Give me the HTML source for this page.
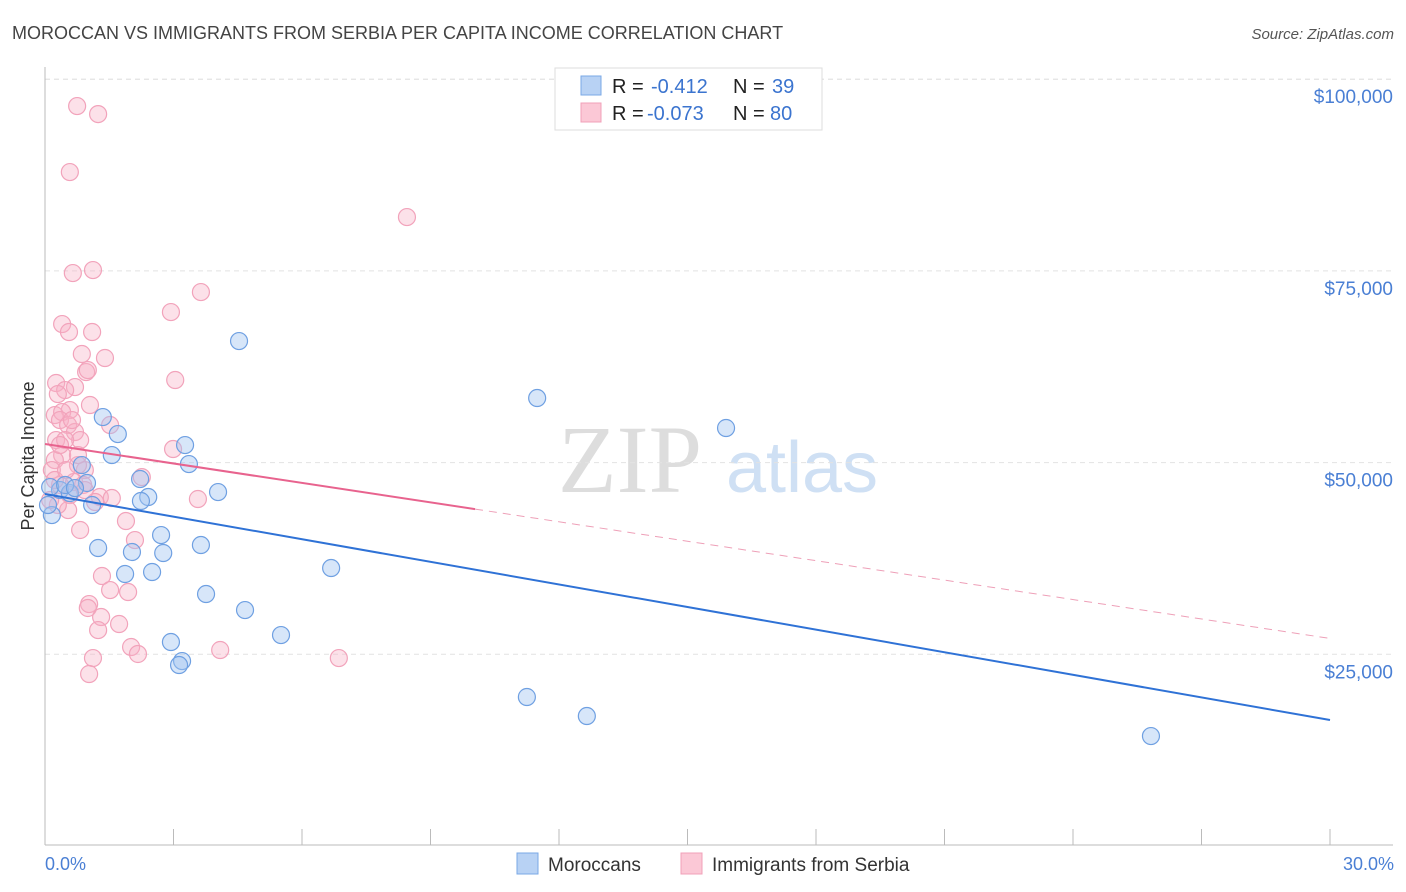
<!DOCTYPE html>
<html><head><meta charset="utf-8">
<style>
body{margin:0;background:#fff;font-family:"Liberation Sans",sans-serif;}
svg{display:block}
</style></head>
<body>
<svg id="chart" width="1406" height="892" xmlns="http://www.w3.org/2000/svg">
<text x="12" y="39" font-size="18" fill="#444">MOROCCAN VS IMMIGRANTS FROM SERBIA PER CAPITA INCOME CORRELATION CHART</text>
<text x="1394" y="39" font-size="15" fill="#555" text-anchor="end" font-style="italic">Source: ZipAtlas.com</text>
<g>
<text x="630" y="492" font-size="96" fill="#ddd" font-family="Liberation Serif,serif" text-anchor="middle">ZIP</text>
<text x="802" y="492" font-size="72" fill="#cfe0f4" text-anchor="middle">atlas</text>
</g>
<g id="grid"></g>
<g id="axes"></g>
<g id="points"></g>
<g id="lines"></g>
<text x="34" y="456" font-size="18" fill="#333" text-anchor="middle" transform="rotate(-90 34 456)">Per Capita Income</text>
<text x="45" y="870" font-size="18" fill="#4a7fd4">0.0%</text>
<text x="1394" y="870" font-size="18" fill="#4a7fd4" text-anchor="end">30.0%</text>
<g>
<rect x="555" y="68" width="267" height="62" fill="#fff" stroke="#ddd"/>
<rect x="581" y="76" width="20" height="19" fill="#b8d2f4" stroke="#7aa8e6"/>
<rect x="581" y="103" width="20" height="19" fill="#fbc8d6" stroke="#f0a0b8"/>
<text x="612" y="93" font-size="20" fill="#222">R = </text><text x="651" y="93" font-size="20" fill="#3b74cf">-0.412</text>
<text x="733" y="93" font-size="20" fill="#222">N = </text><text x="772" y="93" font-size="20" fill="#3b74cf">39</text>
<text x="612" y="120" font-size="20" fill="#222">R = </text><text x="647" y="120" font-size="20" fill="#3b74cf">-0.073</text>
<text x="733" y="120" font-size="20" fill="#222">N = </text><text x="770" y="120" font-size="20" fill="#3b74cf">80</text>
</g>
<g>
<rect x="517" y="853" width="21" height="21" fill="#b8d2f4" stroke="#7aa8e6"/>
<text x="548" y="871" font-size="19" fill="#333">Moroccans</text>
<rect x="681" y="853" width="21" height="21" fill="#fbc8d6" stroke="#f0a0b8"/>
<text x="712" y="871" font-size="19" fill="#333">Immigrants from Serbia</text>
</g>
</svg>
<script>
const yTicks=[25000,50000,75000,100000];
const yTickLabels=["$25,000","$50,000","$75,000","$100,000"];
const blueX=[4.53,11.49,15.90,1.35,1.70,3.27,1.56,3.36,0.86,2.22,0.98,4.04,2.41,2.24,1.10,0.35,0.12,0.58,1.24,2.71,2.03,2.76,3.64,1.87,2.50,6.68,3.76,4.67,5.51,2.94,3.20,3.13,11.25,12.65,25.82,0.16,0.47,0.07,0.70];
const blueY=[65850,58420,54510,55940,53720,52290,50980,49810,49680,47860,47340,46160,45510,44990,44470,46420,46810,46030,38860,40550,38340,38210,39250,35470,35730,36250,32860,30770,27510,26600,24120,23600,19430,16950,14340,43160,47080,44470,46680];
const pinkX=[0.75,1.24,0.58,8.45,1.12,0.65,3.64,2.94,0.40,1.10,0.56,0.86,1.40,0.96,1.00,3.04,0.26,0.70,0.47,0.30,0.58,0.23,0.40,1.52,0.35,0.54,0.70,0.82,2.99,0.26,0.40,0.23,0.93,2.26,0.77,0.35,0.68,1.28,1.56,3.57,0.89,0.58,0.54,1.17,0.82,1.89,0.30,2.10,1.33,1.52,1.94,1.03,1.00,1.31,1.24,1.73,2.01,2.17,1.12,1.03,4.09,6.86,0.16,0.12,0.47,0.63,1.05,0.35,0.23,0.77,0.93,0.49];
const pinkY=[96500,95450,87890,82020,75110,74720,72240,69630,68070,67030,67030,64160,63640,61810,62070,60770,60380,59850,59460,58940,56850,56200,56590,54900,55550,54900,53990,52940,51770,52940,50980,50330,49030,48110,49680,47080,47470,45510,45380,45250,47080,45770,43810,44860,41210,42380,44470,39900,35210,33380,33120,31550,31040,29860,28160,28950,25950,25040,24510,22430,25560,24510,49030,45120,52940,55550,57510,52290,47730,50980,46420,49030];
const blueTrend=[45900,16430];
const pinkTrend=[52420,27070];
const pinkSolidEnd=10.04;

const NS="http://www.w3.org/2000/svg";
const X0=45,X1=1330,Y0=846,PX_PER=191.7/25000;
function sx(v){return X0+(v/30)*(X1-X0);}
function sy(v){return Y0-v*PX_PER;}
function mk(tag,attrs,parent){const e=document.createElementNS(NS,tag);for(const k in attrs)e.setAttribute(k,attrs[k]);parent.appendChild(e);return e;}
const grid=document.getElementById('grid'),axes=document.getElementById('axes'),pts=document.getElementById('points'),lines=document.getElementById('lines');
mk('line',{x1:X0,y1:sy(100000),x2:1393,y2:sy(100000),stroke:'#e2e2e2','stroke-dasharray':'5,4'},grid);
yTicks.forEach((t,i)=>{
 const l=mk('line',{x1:X0,y1:sy(t),x2:1393,y2:sy(t),stroke:'#e2e2e2','stroke-dasharray':'5,4'},grid);
 
 
 const tx=mk('text',{x:1393,y:sy(t)+24,'font-size':19,fill:'#4a7fd4','text-anchor':'end'},grid);
 tx.textContent=yTickLabels[i];
 
 
});
const ya=mk('line',{x1:X0,y1:67,x2:X0,y2:845,stroke:'#bbb'},axes);


const xa=mk('line',{x1:X0,y1:845,x2:1393,y2:845,stroke:'#bbb'},axes);


for(let i=0;i<=10;i++){
 const t=mk('line',{x1:sx(i*3),y1:829,x2:sx(i*3),y2:845,stroke:'#bbb'},axes);
 
 
}
pinkX.forEach((x,i)=>{
 const c=mk('circle',{cx:sx(x),cy:sy(pinkY[i]),r:8.5,fill:'rgba(248,175,197,0.38)',stroke:'#f2a3bb','stroke-width':1.2},pts);
 
 
});
blueX.forEach((x,i)=>{
 const c=mk('circle',{cx:sx(x),cy:sy(blueY[i]),r:8.5,fill:'rgba(160,196,240,0.42)',stroke:'#6fa0e2','stroke-width':1.2},pts);
 
 
});
const bl=mk('line',{x1:sx(0),y1:sy(blueTrend[0]),x2:sx(30),y2:sy(blueTrend[1]),stroke:'#2f72d6','stroke-width':2},lines);


const pEnd=pinkTrend[0]+(pinkTrend[1]-pinkTrend[0])*pinkSolidEnd/30;
const pl=mk('line',{x1:sx(0),y1:sy(pinkTrend[0]),x2:sx(pinkSolidEnd),y2:sy(pEnd),stroke:'#e8638e','stroke-width':2},lines);


const pd=mk('line',{x1:sx(pinkSolidEnd),y1:sy(pEnd),x2:sx(30),y2:sy(pinkTrend[1]),stroke:'#eea0b8','stroke-width':1,'stroke-dasharray':'8,6'},lines);


</script>
</body></html>
